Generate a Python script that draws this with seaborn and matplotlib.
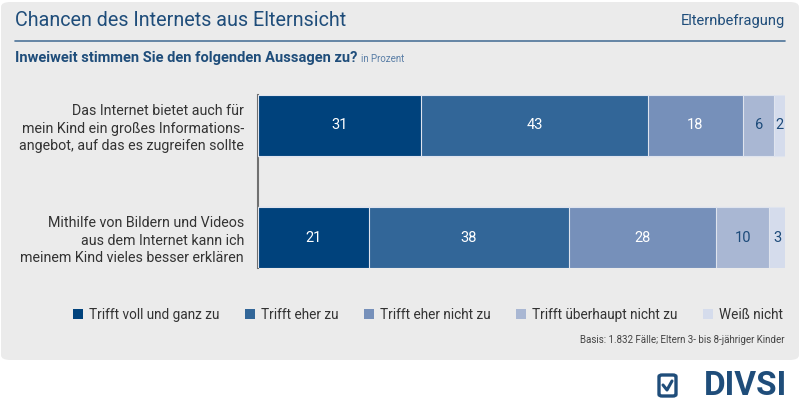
import matplotlib
matplotlib.use("Agg")
import matplotlib.pyplot as plt
import seaborn as sns
import pandas as pd
import numpy as np
from matplotlib.patches import FancyBboxPatch, Patch
from matplotlib.lines import Line2D

# ---- data ----
statements = [
    "Das Internet bietet auch für\nmein Kind ein großes Informations-\nangebot, auf das es zugreifen sollte",
    "Mithilfe von Bildern und Videos\naus dem Internet kann ich\nmeinem Kind vieles besser erklären",
]
answers = ["Trifft voll und ganz zu", "Trifft eher zu", "Trifft eher nicht zu",
           "Trifft überhaupt nicht zu", "Weiß nicht"]
voll = [31, 21]
eher = [43, 38]
eher_nicht = [18, 28]
ueberhaupt_nicht = [6, 10]
weiss_nicht = [2, 3]

colors = ["#00427c", "#326698", "#7690ba", "#a9b7d3", "#d5dcec"]
label_colors = ["white", "white", "white", "#1d4b7a", "#1d4b7a"]

series = [voll, eher, eher_nicht, ueberhaupt_nicht, weiss_nicht]
df = pd.DataFrame({a: s for a, s in zip(answers, series)}, index=statements)
cum = df.cumsum(axis=1)

sns.set_theme(style="white")
plt.rcParams["font.family"] = ["Roboto", "DejaVu Sans"]

W, H = 800, 411
fig = plt.figure(figsize=(8, 4.11), dpi=100)
fig.patch.set_facecolor("white")

# grey rounded panel
panel = FancyBboxPatch((1 / W, 1 - 360 / H), 798 / W, 358 / H,
                       boxstyle="round,pad=0,rounding_size=0.012",
                       transform=fig.transFigure, facecolor="#ebebeb",
                       edgecolor="none", zorder=-5)
fig.patches.append(panel)

title_col = "#1f4d7a"
fig.text(15 / W, 1 - 20 / H, "Chancen des Internets aus Elternsicht",
         fontsize=14.2, color=title_col, va="center", ha="left")
fig.text(785 / W, 1 - 21 / H, "Elternbefragung", fontsize=10.5, color=title_col,
         va="center", ha="right")
fig.lines.append(Line2D([15 / W, 785 / W], [1 - 41 / H, 1 - 41 / H],
                        transform=fig.transFigure, color="#4d7399", lw=1.2))
t = fig.text(15 / W, 1 - 58 / H, "Inweiweit stimmen Sie den folgenden Aussagen zu?",
             fontsize=10.5, color=title_col, fontweight="bold", va="center", ha="left")
fig.canvas.draw()
bb = t.get_window_extent()
fig.text(bb.x1 / W + 4 / W, 1 - 59 / H, "in Prozent", fontsize=7,
         color="#5a7ea6", va="center", ha="left")

# axes
ax = fig.add_axes([258 / W, 1 - 268 / H, 527 / W, 173 / H])
ax.set_facecolor("none")
ax.set_zorder(2)
half = 0.2723
for i in range(len(answers) - 1, -1, -1):
    a = answers[i]
    sns.barplot(x=cum[a].values, y=list(df.index), orient="h", color=colors[i],
                width=2 * half, ax=ax, edgecolor="#dfe4ee", linewidth=0.8,
                saturation=1, zorder=3)

ax.set_xlim(0, 100)
ax.set_ylim(1 + half, -half)
for s in ["top", "right", "bottom"]:
    ax.spines[s].set_visible(False)
ax.spines["left"].set_color("#707070")
ax.spines["left"].set_linewidth(1.5)
ax.spines["left"].set_zorder(1)
ax.set_xticks([])
ax.set_xlabel("")
ax.set_ylabel("")
ax.tick_params(axis="y", length=0, pad=10)
ax.set_yticklabels(statements, fontsize=10.3, color="#333333", linespacing=1.3,
                   ha="right")

for i in range(len(answers)):
    a = answers[i]
    for j in range(len(statements)):
        v = df[a].values[j]
        centre = cum[a].values[j] - v / 2
        ax.text(centre, j, str(v), ha="center", va="center", fontsize=10.5,
                color=label_colors[i], zorder=5)

# legend
handles = [Patch(facecolor=c, edgecolor="none") for c in colors]
fig.legend(handles, answers, loc="center right", ncol=5,
           bbox_to_anchor=(788 / W, 1 - 315 / H), frameon=False,
           fontsize=9.8, handlelength=0.75, handleheight=0.75,
           handletextpad=0.4, columnspacing=1.9, labelcolor="#333333",
           borderaxespad=0)

fig.text(785 / W, 1 - 340 / H,
         "Basis: 1.832 Fälle; Eltern 3- bis 8-jähriger Kinder",
         fontsize=7, color="#444444", ha="right", va="center")

# DIVSI logo
logo_col = "#1f4d7a"
fig.text(787 / W, 1 - 386 / H, "DIVSI", fontsize=24, fontweight="bold",
         color=logo_col, ha="right", va="center")
box = FancyBboxPatch((659 / W, 1 - 396 / H), 17 / W, 21 / H,
                     boxstyle="round,pad=0,rounding_size=0.004",
                     transform=fig.transFigure, facecolor="none",
                     edgecolor=logo_col, lw=2.4)
fig.patches.append(box)
fig.lines.append(Line2D([663 / W, 667 / W, 672 / W],
                        [1 - 385 / H, 1 - 390 / H, 1 - 381 / H],
                        transform=fig.transFigure, color=logo_col, lw=2.2))

fig.savefig("out.png", dpi=100)
